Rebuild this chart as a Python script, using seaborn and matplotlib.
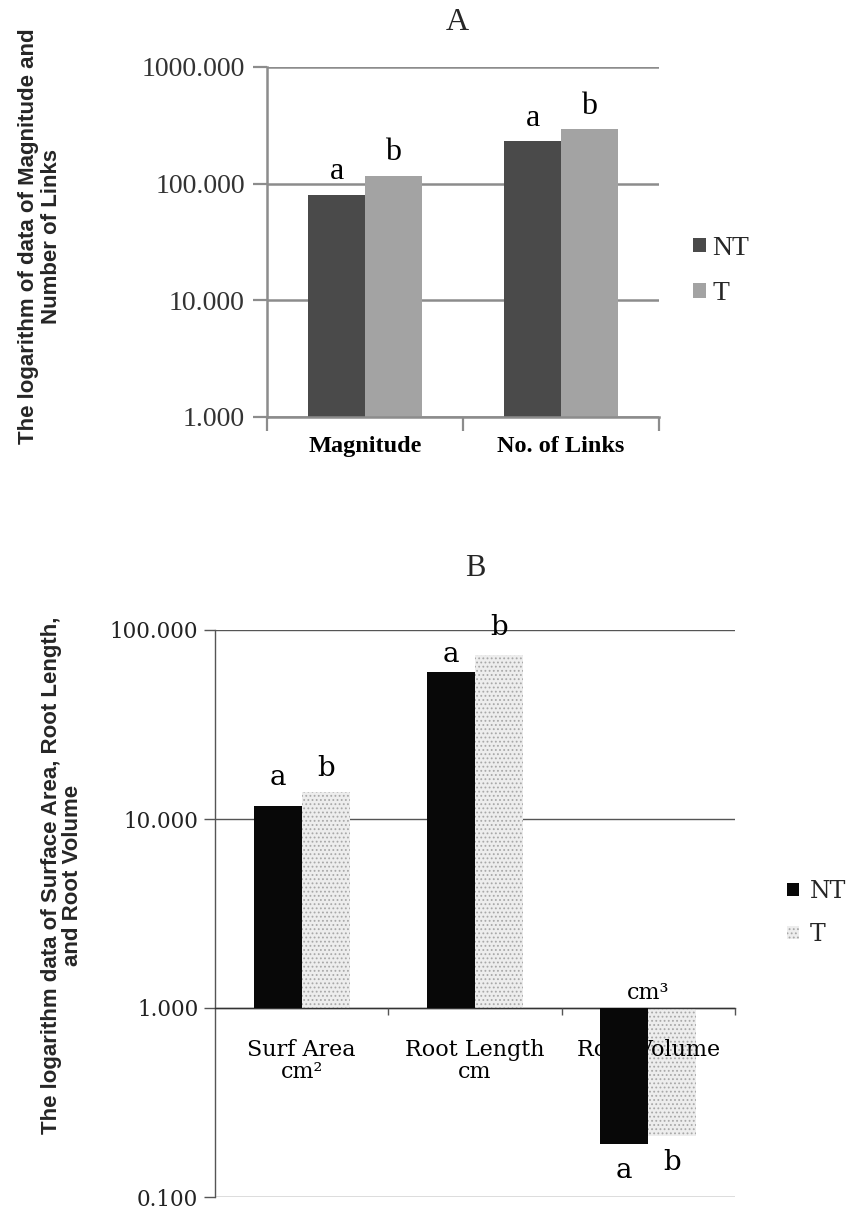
import numpy as np
import pandas as pd
import matplotlib
matplotlib.use("Agg")
import matplotlib.pyplot as plt
import seaborn as sns
from matplotlib.ticker import FixedLocator

# ---------------- data ----------------
groups = ["NT", "T"]

a_categories = ["Magnitude", "No. of Links"]
a_nt = [80.5, 232.0]
a_t = [117.0, 294.0]
a_letters_nt = ["a", "a"]
a_letters_t = ["b", "b"]
a_ticks = [1, 10, 100, 1000]

b_categories = ["Surf Area\ncm²", "Root Length\ncm", "Root Volume"]
b_nt = [11.7, 60.0, 0.19]
b_t = [13.9, 74.0, 0.21]
b_letters_nt = ["a", "a", "a"]
b_letters_t = ["b", "b", "b"]
b_ticks = [0.1, 1, 10, 100]

# ---------------- style ----------------
sns.set_theme(style="white")
plt.rcParams["font.family"] = ["Liberation Serif", "DejaVu Serif"]
plt.rcParams["hatch.linewidth"] = 0.8

W, H = 856, 1211
fig = plt.figure(figsize=(W / 100, H / 100), dpi=100)


def px(x0, y_top, x1, y_bot):
    return [x0 / W, 1 - y_bot / H, (x1 - x0) / W, (y_bot - y_top) / H]


# ================= Chart A =================
axA = fig.add_axes(px(267, 67, 659, 417))
df_a = pd.DataFrame({
    "category": a_categories * 2,
    "group": ["NT"] * len(a_categories) + ["T"] * len(a_categories),
    "value": a_nt + a_t,
})
df_a["logv"] = np.log10(df_a["value"])
sns.barplot(data=df_a, x="category", y="logv", hue="group", hue_order=groups,
            palette={"NT": "#4a4a4a", "T": "#a3a3a3"}, saturation=1,
            width=0.58, linewidth=0, legend=False, ax=axA, zorder=2)
axA.set_ylim(0, np.log10(a_ticks[-1]))
axA.set_xlim(-0.5, len(a_categories) - 0.5)
axA.set_yticks(np.log10(a_ticks))
axA.set_yticklabels([f"{t:.3f}" for t in a_ticks], fontsize=20,
                    family="Liberation Serif", color="#333333")
axA.set_xticks(range(len(a_categories)))
axA.set_xticklabels(a_categories, fontsize=17.5, fontweight="bold",
                    family="Liberation Serif", color="black")
axA.set_xlabel("")
axA.set_ylabel("")
axA.yaxis.grid(True, color="#8c8c8c", linewidth=1.8)
axA.set_axisbelow(True)
for s in ["top", "right"]:
    axA.spines[s].set_visible(False)
for s in ["left", "bottom"]:
    axA.spines[s].set_color("#8c8c8c")
    axA.spines[s].set_linewidth(1.8)
axA.xaxis.set_minor_locator(FixedLocator([-0.5, 0.5, 1.5]))
axA.tick_params(axis="x", which="major", length=0, pad=14)
axA.tick_params(axis="x", which="minor", length=10, width=1.6,
                color="#8c8c8c", direction="out", bottom=True)
axA.tick_params(axis="y", which="major", length=10, width=1.6,
                color="#8c8c8c", direction="out", left=True, pad=6)

for cont, letters in zip(axA.containers, [a_letters_nt, a_letters_t]):
    for bar, lab in zip(cont, letters):
        axA.annotate(lab, (bar.get_x() + bar.get_width() / 2, bar.get_height()),
                     xytext=(0, 11), textcoords="offset points",
                     ha="center", va="baseline", fontsize=23,
                     family="Liberation Serif", color="black")

fig.text(457 / W, 1 - 22 / H, "A", ha="center", va="center", fontsize=23,
         family="Liberation Serif")
fig.text(40 / W, 1 - 236 / H,
         "The logarithm of data of Magnitude and\nNumber of Links",
         rotation=90, ha="center", va="center", multialignment="center",
         fontsize=16, fontweight="bold", family="Liberation Sans",
         linespacing=1.1)

hA = [axA.containers[0], axA.containers[1]]
fig.legend(hA, groups, loc="center left",
           bbox_to_anchor=(693 / W, 1 - 271 / H), frameon=False,
           prop={"family": "Liberation Serif", "size": 20},
           handlelength=0.45, handleheight=0.45, handletextpad=0.25,
           labelspacing=0.73, borderpad=0, borderaxespad=0)

# ================= Chart B =================
axB = fig.add_axes(px(215, 630, 735, 1197))
df_b = pd.DataFrame({
    "category": b_categories * 2,
    "group": ["NT"] * len(b_categories) + ["T"] * len(b_categories),
    "value": b_nt + b_t,
})
df_b["logv"] = np.log10(df_b["value"])
sns.barplot(data=df_b, x="category", y="logv", hue="group", hue_order=groups,
            palette={"NT": "#080808", "T": "#ededed"}, saturation=1,
            width=0.555, linewidth=0, legend=False, ax=axB)
# move the category axis to the 1.000 line first (this resets tick styling)
axB.spines["bottom"].set_position(("data", 0))

cNT, cT = axB.containers[0], axB.containers[1]
for bar in cNT:
    bar.set_zorder(4)
for bar in cT:
    bar.set_zorder(2)
    bar.set_hatch("....")
    bar.set_edgecolor("#a8a8a8")
    bar.set_linewidth(0)

axB.set_ylim(np.log10(b_ticks[0]), np.log10(b_ticks[-1]))
axB.set_xlim(-0.5, len(b_categories) - 0.5)
axB.set_yticks(np.log10(b_ticks))
axB.set_yticklabels([f"{t:.3f}" for t in b_ticks], fontsize=15.5,
                    family="DejaVu Serif", color="#222222")
axB.set_xticks(range(len(b_categories)))
axB.set_xticklabels(b_categories, fontsize=16, family="DejaVu Serif",
                    color="black", linespacing=1.0)
axB.set_xlabel("")
axB.set_ylabel("")
axB.yaxis.grid(True, color="#555555", linewidth=1.0)
axB.yaxis.set_zorder(0.5)
axB.xaxis.set_zorder(3)
for s in ["top", "right"]:
    axB.spines[s].set_visible(False)
axB.spines["left"].set_color("#555555")
axB.spines["left"].set_linewidth(1.0)
axB.spines["bottom"].set_color("#333333")
axB.spines["bottom"].set_linewidth(1.0)
axB.spines["bottom"].set_zorder(3)
axB.xaxis.set_minor_locator(FixedLocator([0.5, 1.5, 2.5]))
axB.tick_params(axis="x", which="major", length=0, pad=22)
axB.tick_params(axis="x", which="minor", length=5, width=1.0,
                color="#555555", direction="out", bottom=True)
axB.tick_params(axis="y", which="major", length=8, width=1.0,
                color="#555555", direction="out", left=True, pad=4)

b_gap_nt = [21, 10, 13]
b_gap_t = [16, 20, 13]
for cont, letters, gaps in zip(axB.containers, [b_letters_nt, b_letters_t],
                               [b_gap_nt, b_gap_t]):
    for bar, lab, g in zip(cont, letters, gaps):
        h = bar.get_height()
        xc = bar.get_x() + bar.get_width() / 2
        if h >= 0:
            axB.annotate(lab, (xc, h), xytext=(0, g * 0.72),
                         textcoords="offset points", ha="center",
                         va="baseline", fontsize=20, family="DejaVu Serif",
                         color="black", zorder=5)
        else:
            axB.annotate(lab, (xc, h), xytext=(0, -g * 0.72),
                         textcoords="offset points", ha="center", va="top",
                         fontsize=20, family="DejaVu Serif", color="black",
                         zorder=5)

axB.text(2, 0.02, "cm³", ha="center", va="bottom", fontsize=16,
         family="DejaVu Serif", color="black", zorder=5)

fig.text(475 / W, 1 - 568 / H, "B", ha="center", va="center", fontsize=22,
         family="Liberation Serif")
fig.text(62 / W, 1 - 875 / H,
         "The logarithm data of Surface Area, Root Length,\nand Root Volume",
         rotation=90, ha="center", va="center", multialignment="center",
         fontsize=16, fontweight="bold", family="Liberation Sans",
         linespacing=1.0)

fig.legend([cNT, cT], groups, loc="center left",
           bbox_to_anchor=(787 / W, 1 - 913 / H), frameon=False,
           prop={"family": "DejaVu Serif", "size": 17},
           handlelength=0.5, handleheight=0.5, handletextpad=0.45,
           labelspacing=0.85, borderpad=0, borderaxespad=0)

fig.savefig("out.png", dpi=100, facecolor="white")
